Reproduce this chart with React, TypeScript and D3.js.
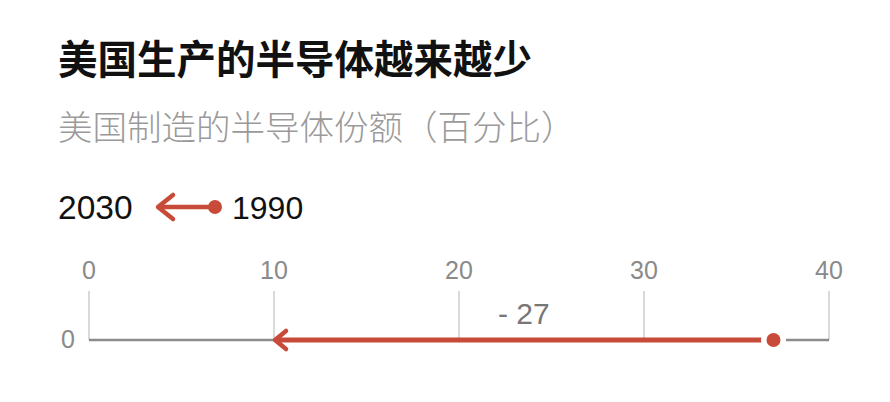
import React from 'react';
import * as d3 from 'd3';

const title = '美国生产的半导体越来越少';
const subtitle = '美国制造的半导体份额（百分比）';
const years = ['1990', '2030'];
const shares = [37, 10];
const xTicks = [0, 10, 20, 30, 40];
const rows = ['0'];

const W = 890;
const H = 402;
const red = '#c84b39';
const font = '"Liberation Sans", "Noto Sans CJK SC", sans-serif';

const App: React.FC = () => {
  const x = d3.scaleLinear().domain([0, 40]).range([89, 829]);
  const y = d3.scalePoint<string>().domain(rows).range([340, 340]);
  const y0 = y('0') as number;
  const start = x(shares[0]);
  const end = x(shares[1]);
  const diff = shares[1] - shares[0];

  const line = d3.line();
  const chevron = (tx: number, ty: number, w: number, h: number) =>
    line([[tx + w, ty - h], [tx, ty], [tx + w, ty + h]]) as string;

  return (
    <svg width={W} height={H} style={{ position: 'absolute', left: 0, top: 0, background: '#fff' }} fontFamily={font}>
      <text x={58} y={74} fontSize={39.5} fontWeight={700} fill="#111">{title}</text>
      <text x={58} y={140} fontSize={34.5} fontWeight={300} fill="#9a9a9a">{subtitle}</text>

      {/* legend */}
      <g>
        <text x={58} y={219} fontSize={33.5} fill="#111">{years[1]}</text>
        <line x1={160} x2={214} y1={207} y2={207} stroke={red} strokeWidth={4.5} />
        <path d={chevron(158, 207, 15, 12)} fill="none" stroke={red} strokeWidth={4.5} strokeLinecap="round" strokeLinejoin="round" />
        <circle cx={215} cy={207} r={7} fill={red} />
        <text x={232} y={219} fontSize={32} fill="#111">{years[0]}</text>
      </g>

      {/* grid + tick labels */}
      {xTicks.map((t) => (
        <g key={t}>
          <line x1={x(t)} x2={x(t)} y1={291} y2={y0} stroke="#d9d9d9" strokeWidth={2} />
          <text x={x(t)} y={279} textAnchor="middle" fontSize={25} fill="#8a8a8a">{t}</text>
        </g>
      ))}
      <text x={68} y={348} textAnchor="middle" fontSize={25} fill="#8a8a8a">{rows[0]}</text>

      {/* baseline */}
      <line x1={x(0)} x2={x(40)} y1={y0} y2={y0} stroke="#8c8c8c" strokeWidth={2.5} />

      {/* change arrow */}
      <line x1={end + 2} x2={start} y1={y0} y2={y0} stroke={red} strokeWidth={5} />
      <path d={chevron(end + 1, y0, 11, 9)} fill="none" stroke={red} strokeWidth={4.5} strokeLinecap="round" strokeLinejoin="round" />
      <circle cx={start} cy={y0} r={12.5} fill="#fff" />
      <circle cx={start} cy={y0} r={7} fill={red} />

      <text x={(start + end) / 2} y={324} textAnchor="middle" fontSize={30} fill="#777">
        {`- ${Math.abs(diff)}`}
      </text>
    </svg>
  );
};

export default App;
